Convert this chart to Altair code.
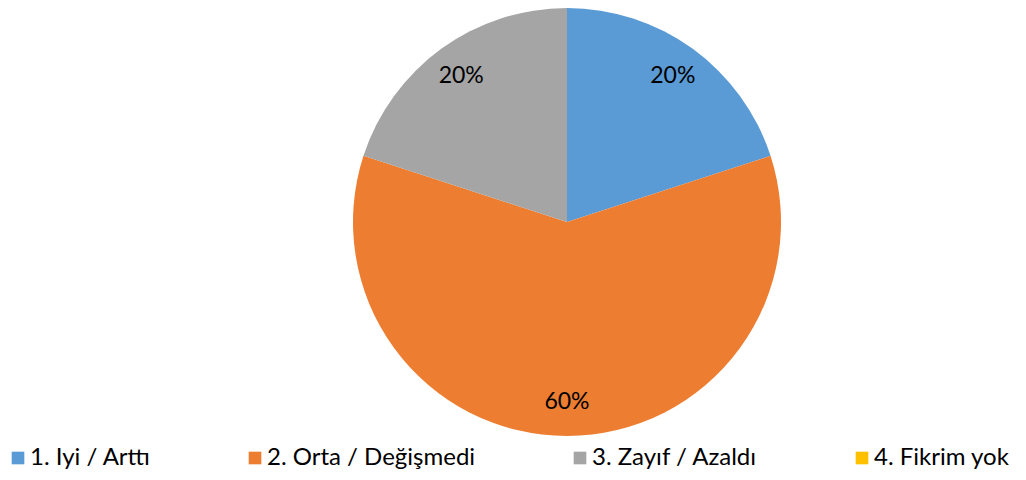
import altair as alt
import pandas as pd

categories = ["1. Iyi / Arttı", "2. Orta / Değişmedi", "3. Zayıf / Azaldı", "4. Fikrim yok"]
shares = [20, 60, 20, 0]
labels = ["20%", "60%", "20%", ""]
colors = ["#5B9BD5", "#ED7D31", "#A5A5A5", "#FFC000"]

df = pd.DataFrame({"cat": categories, "share": shares, "label": labels,
                   "order": list(range(len(categories)))})

FONT = "Lato"
CX, CY, R = 559, 214, 214

base = alt.Chart(df).encode(
    theta=alt.Theta("share:Q", stack=True),
    order=alt.Order("order:Q"),
)

pie = base.mark_arc(radius=R, x=CX, y=CY).encode(
    color=alt.Color(
        "cat:N",
        scale=alt.Scale(domain=categories, range=colors),
        sort=categories,
        legend=alt.Legend(
            title=None, orient="none", legendX=-2, legendY=438, padding=0,
            direction="horizontal", columns=4, columnPadding=92,
            symbolType="square", symbolSize=160, symbolStrokeWidth=0,
            labelFont=FONT, labelFontSize=24, labelColor="#000000",
            labelOffset=0, labelLimit=400,
        ),
    ),
)

text = base.mark_text(radius=180, x=CX, y=CY, font=FONT, fontSize=23, color="#000000").encode(
    text="label:N"
).transform_filter("datum.share > 0")

chart = alt.layer(pie, text).properties(
    width=1010, height=464, autosize="none", padding=0
).configure_view(stroke=None)

chart.save("out.html", embed_options={"renderer": "svg", "actions": False})
